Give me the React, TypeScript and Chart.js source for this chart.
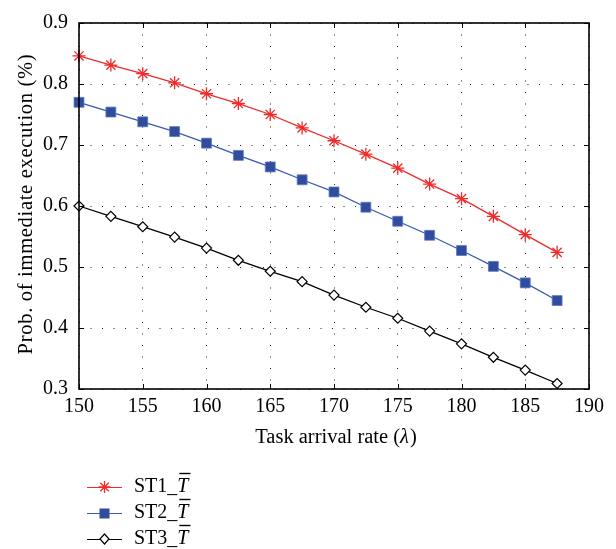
import React, { useEffect, useRef } from "react";
import { Chart, registerables } from "chart.js";

Chart.register(...registerables);

const arrivalRates = [150, 152.5, 155, 157.5, 160, 162.5, 165, 167.5, 170, 172.5, 175, 177.5, 180, 182.5, 185, 187.5];
const st1 = [0.846, 0.831, 0.817, 0.802, 0.784, 0.768, 0.750, 0.728, 0.707, 0.685, 0.662, 0.636, 0.612, 0.583, 0.553, 0.524];
const st2 = [0.770, 0.754, 0.738, 0.722, 0.703, 0.683, 0.664, 0.643, 0.623, 0.598, 0.575, 0.552, 0.527, 0.501, 0.474, 0.445];
const st3 = [0.600, 0.583, 0.566, 0.549, 0.531, 0.511, 0.493, 0.476, 0.454, 0.434, 0.416, 0.395, 0.374, 0.352, 0.331, 0.309];
const seriesNames = ["ST1_", "ST2_", "ST3_"];
const xTicks = [150, 155, 160, 165, 170, 175, 180, 185, 190];
const yTicks = [0.3, 0.4, 0.5, 0.6, 0.7, 0.8, 0.9];

const FONT = '"Liberation Serif", "DejaVu Serif", serif';
const RED = "#EE2A2A";
const BLUE = "#2F4C9E";
const BLUE_LINE = "#3A5AB0";

const toPts = (ys: number[]) => arrivalRates.map((x, i) => ({ x, y: ys[i] }));

const overlayPlugin = {
  id: "overlay",
  afterDraw(chart: any) {
    const { ctx, chartArea: a, scales } = chart;
    const xs = scales.x;
    const ys = scales.y;
    ctx.save();
    // inner ticks
    ctx.strokeStyle = "#000";
    ctx.lineWidth = 1;
    const tl = 5;
    xTicks.forEach((v) => {
      const px = Math.round(xs.getPixelForValue(v)) + 0.5;
      ctx.beginPath();
      ctx.moveTo(px, a.bottom);
      ctx.lineTo(px, a.bottom - tl);
      ctx.moveTo(px, a.top);
      ctx.lineTo(px, a.top + tl);
      ctx.stroke();
    });
    yTicks.forEach((v) => {
      const py = Math.round(ys.getPixelForValue(v)) + 0.5;
      ctx.beginPath();
      ctx.moveTo(a.left, py);
      ctx.lineTo(a.left + tl, py);
      ctx.moveTo(a.right, py);
      ctx.lineTo(a.right - tl, py);
      ctx.stroke();
    });
    // box
    ctx.lineWidth = 1.6;
    ctx.strokeRect(a.left, a.top, a.right - a.left, a.bottom - a.top);

    // x title
    const TS = 20.5;
    ctx.fillStyle = "#000";
    ctx.textBaseline = "middle";
    const xt1 = "Task arrival rate (";
    const xt2 = "\u03bb";
    const xt3 = ")";
    ctx.font = `${TS}px ${FONT}`;
    const w1 = ctx.measureText(xt1).width;
    const w3 = ctx.measureText(xt3).width;
    ctx.font = `italic ${TS}px ${FONT}`;
    const w2 = ctx.measureText(xt2).width;
    const total = w1 + w2 + w3 + 1;
    const cx = 336;
    let sx = cx - total / 2;
    const ty = 438;
    ctx.textAlign = "left";
    ctx.font = `${TS}px ${FONT}`;
    ctx.fillText(xt1, sx, ty);
    ctx.font = `italic ${TS}px ${FONT}`;
    ctx.fillText(xt2, sx + w1, ty);
    ctx.font = `${TS}px ${FONT}`;
    ctx.fillText(xt3, sx + w1 + w2 + 1, ty);

    // y title
    ctx.save();
    ctx.translate(27, 204);
    ctx.rotate(-Math.PI / 2);
    ctx.textAlign = "center";
    ctx.font = `${TS}px ${FONT}`;
    try {
      (ctx as any).letterSpacing = "0.7px";
    } catch (e) {}
    ctx.fillText("Prob. of immediate execution (%)", 0, 0);
    try {
      (ctx as any).letterSpacing = "0px";
    } catch (e) {}
    ctx.restore();

    // legend
    const rows = [487, 513, 539];
    const styles = [
      { color: RED, kind: "star" },
      { color: BLUE, kind: "square" },
      { color: "#000", kind: "diamond" },
    ];
    rows.forEach((ry, i) => {
      const st = styles[i];
      ctx.strokeStyle = i === 1 ? BLUE_LINE : st.color;
      ctx.lineWidth = 1.2;
      ctx.beginPath();
      ctx.moveTo(87, ry + 0.5);
      ctx.lineTo(122, ry + 0.5);
      ctx.stroke();
      const mx = 104.5;
      if (st.kind === "star") {
        ctx.lineWidth = 1.3;
        ctx.strokeStyle = RED;
        const r = 6;
        ctx.beginPath();
        ctx.moveTo(mx - r, ry);
        ctx.lineTo(mx + r, ry);
        ctx.moveTo(mx, ry - r);
        ctx.lineTo(mx, ry + r);
        const d = r * Math.SQRT1_2;
        ctx.moveTo(mx - d, ry - d);
        ctx.lineTo(mx + d, ry + d);
        ctx.moveTo(mx - d, ry + d);
        ctx.lineTo(mx + d, ry - d);
        ctx.stroke();
      } else if (st.kind === "square") {
        ctx.fillStyle = BLUE;
        ctx.fillRect(mx - 5, ry - 4.5, 10, 10);
      } else {
        ctx.fillStyle = "#fff";
        ctx.strokeStyle = "#000";
        ctx.lineWidth = 1.2;
        ctx.beginPath();
        ctx.moveTo(mx, ry - 5);
        ctx.lineTo(mx + 4.5, ry);
        ctx.lineTo(mx, ry + 5);
        ctx.lineTo(mx - 4.5, ry);
        ctx.closePath();
        ctx.fill();
        ctx.stroke();
      }
      ctx.fillStyle = "#000";
      ctx.textAlign = "left";
      ctx.textBaseline = "middle";
      ctx.font = `20px ${FONT}`;
      const tx = 134;
      ctx.fillText(seriesNames[i], tx, ry);
      const sw = ctx.measureText(seriesNames[i]).width;
      ctx.font = `italic 20px ${FONT}`;
      ctx.fillText("T", tx + sw, ry);
      const tw = ctx.measureText("T").width;
      ctx.lineWidth = 1.4;
      ctx.strokeStyle = "#000";
      ctx.beginPath();
      ctx.moveTo(tx + sw + 2, ry - 13.5);
      ctx.lineTo(tx + sw + tw + 2, ry - 13.5);
      ctx.stroke();
    });
    ctx.restore();
  },
};

export default function App() {
  const ref = useRef<HTMLCanvasElement | null>(null);
  useEffect(() => {
    if (!ref.current) return;
    const chart = new Chart(ref.current, {
      type: "line",
      data: {
        datasets: [
          {
            label: "ST1",
            data: toPts(st1),
            borderColor: RED,
            borderWidth: 1.3,
            pointStyle: "star",
            pointRadius: 6.5,
            pointBorderColor: RED,
            pointBorderWidth: 1.3,
            pointBackgroundColor: RED,
            clip: false,
          },
          {
            label: "ST2",
            data: toPts(st2),
            borderColor: BLUE_LINE,
            borderWidth: 1.3,
            pointStyle: "rect",
            pointRadius: 7,
            pointBorderColor: "#5D77BD",
            pointBorderWidth: 0.8,
            pointBackgroundColor: BLUE,
            clip: false,
          },
          {
            label: "ST3",
            data: toPts(st3),
            borderColor: "#000",
            borderWidth: 1.3,
            pointStyle: "rectRot",
            pointRadius: 5,
            pointBorderColor: "#000",
            pointBorderWidth: 1.2,
            pointBackgroundColor: "#fff",
            clip: false,
          },
        ],
      } as any,
      options: {
        animation: false,
        responsive: false,
        maintainAspectRatio: false,
        layout: { padding: { left: 0, top: 16, right: 27, bottom: 0 } },
        plugins: { legend: { display: false }, tooltip: { enabled: false } },
        scales: {
          x: {
            type: "linear",
            min: 150,
            max: 190,
            afterFit: (s: any) => {
              s.height = 160;
            },
            afterBuildTicks: (s: any) => {
              s.ticks = xTicks.map((v) => ({ value: v }));
            },
            ticks: {
              font: { family: FONT, size: 20 },
              color: "#000",
              padding: 6,
              maxRotation: 0,
              callback: (v: any) => String(v),
            },
            grid: { color: "#222", lineWidth: 1, drawTicks: false },
            border: { display: false, dash: [1, 10.5] },
          },
          y: {
            type: "linear",
            min: 0.3,
            max: 0.9,
            afterFit: (s: any) => {
              s.width = 79;
            },
            afterBuildTicks: (s: any) => {
              s.ticks = yTicks.map((v) => ({ value: v }));
            },
            ticks: {
              font: { family: FONT, size: 20 },
              color: "#000",
              padding: 11,
              callback: (v: any) => Number(v).toFixed(1),
            },
            grid: { color: "#222", lineWidth: 1, drawTicks: false },
            border: { display: false, dash: [1, 10.5] },
          },
        },
      } as any,
      plugins: [overlayPlugin],
    });
    return () => chart.destroy();
  }, []);
  return (
    <div style={{ position: "fixed", left: 0, top: 0, width: 616, height: 549, background: "#fff" }}>
      <canvas ref={ref} width={616} height={549} style={{ width: 616, height: 549, display: "block" }} />
    </div>
  );
}
